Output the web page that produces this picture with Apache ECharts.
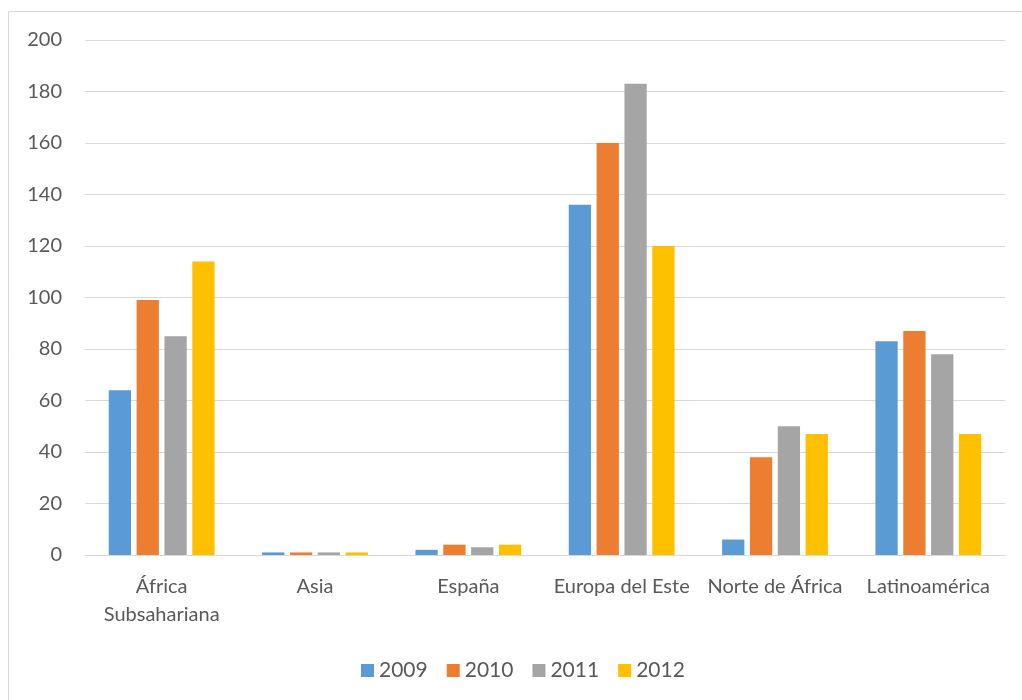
<!DOCTYPE html>
<html>
<head>
<meta charset="utf-8">
<script src="https://cdn.jsdelivr.net/npm/echarts@6/dist/echarts.min.js"></script>
<style>
  html, body { margin: 0; padding: 0; background: #ffffff; }
  #chart { width: 1022px; height: 700px; }
</style>
</head>
<body>
<div id="chart"></div>
<script>
// Regions on the category axis
const categories = ['África\nSubsahariana', 'Asia', 'España', 'Europa del Este', 'Norte de África', 'Latinoamérica'];

// Yearly values per region
const years = ['2009', '2010', '2011', '2012'];
const values2009 = [64, 1, 2, 136, 6, 83];
const values2010 = [99, 1, 4, 160, 38, 87];
const values2011 = [85, 1, 3, 183, 50, 78];
const values2012 = [114, 1, 4, 120, 47, 47];

const colors = ['#5b9bd5', '#ed7d31', '#a5a5a5', '#ffc000'];
const seriesValues = [values2009, values2010, values2011, values2012];

const font = 'Lato, "Open Sans", sans-serif';
const textColor = '#595959';

const chart = echarts.init(document.getElementById('chart'), null, { renderer: 'canvas' });

chart.setOption({
  animation: false,
  backgroundColor: '#ffffff',
  graphic: [{
    type: 'rect',
    shape: { x: 8.5, y: 11.5, width: 1040, height: 720 },
    style: { fill: 'none', stroke: '#d9d9d9', lineWidth: 1 },
    silent: true,
    z: -1
  }],
  grid: { left: 85, right: 17, top: 40, bottom: 145, containLabel: false },
  legend: {
    data: years,
    left: 356,
    top: 655,
    itemWidth: 13,
    itemHeight: 13,
    itemGap: 19,
    icon: 'rect',
    textStyle: { color: textColor, fontSize: 21, fontFamily: font }
  },
  xAxis: {
    type: 'category',
    data: categories,
    axisLine: { show: true, lineStyle: { color: '#d9d9d9', width: 1 } },
    axisTick: { show: false },
    axisLabel: {
      color: textColor,
      fontSize: 20,
      fontFamily: font,
      margin: 18,
      lineHeight: 28,
      interval: 0
    }
  },
  yAxis: {
    type: 'value',
    min: 0,
    max: 200,
    interval: 20,
    axisLine: { show: false },
    axisTick: { show: false },
    splitLine: { lineStyle: { color: '#d9d9d9', width: 1 } },
    axisLabel: { color: textColor, fontSize: 20, fontFamily: font, margin: 23 }
  },
  series: years.map((y, i) => ({
    name: y,
    type: 'bar',
    data: seriesValues[i],
    itemStyle: { color: colors[i] },
    barGap: '25%',
    barCategoryGap: '31%'
  }))
});
</script>
</body>
</html>
